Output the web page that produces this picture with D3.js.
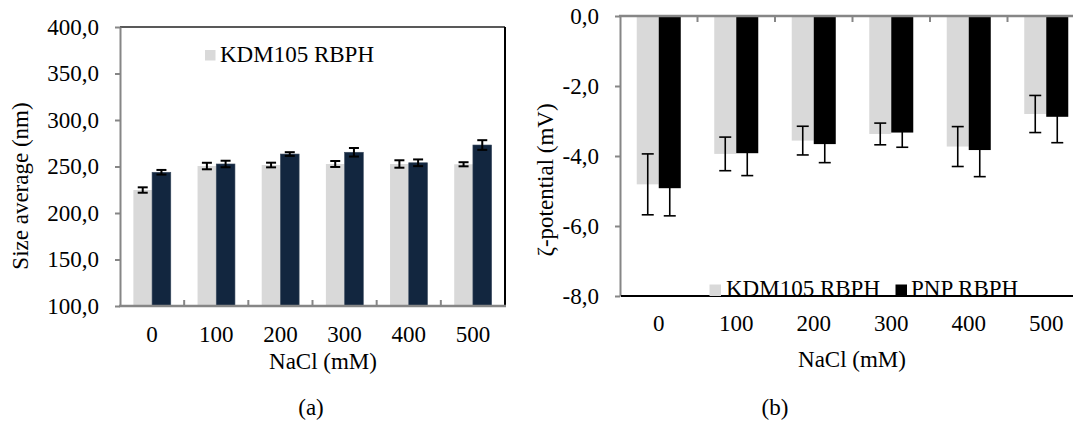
<!DOCTYPE html>
<html>
<head>
<meta charset="utf-8">
<script src="https://cdn.jsdelivr.net/npm/d3@7"></script>
<style>
  body { margin: 0; background: #fff; }
  text { font-family: "Liberation Serif", "Times New Roman", serif; font-size: 23px; fill: #000; }
</style>
</head>
<body>
<div id="chart"></div>
<script>
// NaCl concentrations (mM)
var categories = ['0', '100', '200', '300', '400', '500'];
var seriesNames = ['KDM105 RBPH', 'PNP RBPH'];

// (a) size average (nm)
var sizeKdm = [224.7, 250.5, 251.6, 252.7, 252.7, 252.4];
var sizeKdmErr = [2.9, 3.5, 2.5, 3.2, 4.0, 2.2];
var sizePnp = [243.8, 252.7, 263.4, 265.3, 254.0, 273.1];
var sizePnpErr = [2.5, 3.5, 2.0, 4.6, 3.6, 5.2];
var sizeTicks = [100, 150, 200, 250, 300, 350, 400];

// (b) zeta potential (mV)
var zetaKdm = [-4.81, -3.94, -3.56, -3.37, -3.73, -2.80];
var zetaKdmErr = [0.87, 0.48, 0.41, 0.31, 0.57, 0.53];
var zetaPnp = [-4.92, -3.92, -3.66, -3.33, -3.83, -2.88];
var zetaPnpErr = [0.79, 0.64, 0.53, 0.42, 0.76, 0.74];
var zetaTicks = [0, -2, -4, -6, -8];

(function(d3) {
  'use strict';
  var width = 1073;
  var height = 423;
  var locale = d3.formatLocale({ decimal: ',', thousands: '.', grouping: [3], currency: ['', ''], minus: '-' });
  var fmt = locale.format('.1f');
  var axisGray = '#868686';

  var svg = d3.select('#chart')
    .append('svg')
    .attr('width', width)
    .attr('height', height);

  function rows(a, ae, b, be) {
    return categories.map(function(c, i) {
      return { cat: c, vals: [{ s: 0, v: a[i], e: ae[i] }, { s: 1, v: b[i], e: be[i] }] };
    });
  }

  // ---------- (a) ----------
  var xa = d3.scaleBand().domain(categories).range([120, 505])
    .paddingInner(0.417).paddingOuter(0.2085);
  var xa2 = d3.scaleBand().domain([0, 1]).range([0, xa.bandwidth()]);
  var ya = d3.scaleLinear().domain([100, 400]).range([306, 27]);
  var colA = ['#d9d9d9', '#12263f'];

  var ga = svg.append('g');
  var dataA = rows(sizeKdm, sizeKdmErr, sizePnp, sizePnpErr);

  var grpA = ga.selectAll('.grp').data(dataA).enter().append('g')
    .attr('transform', function(d) { return 'translate(' + xa(d.cat) + ',0)'; });
  grpA.selectAll('rect').data(function(d) { return d.vals; }).enter().append('rect')
    .attr('x', function(d) { return xa2(d.s); })
    .attr('width', xa2.bandwidth())
    .attr('y', function(d) { return ya(d.v); })
    .attr('height', function(d) { return ya(100) - ya(d.v); })
    .attr('fill', function(d) { return colA[d.s]; })
    .attr('stroke', function(d) { return d.s ? '#3a4a5e' : 'none'; })
    .attr('stroke-width', 0.6);
  var errA = grpA.selectAll('.err').data(function(d) { return d.vals; }).enter().append('g')
    .attr('stroke', '#000').attr('stroke-width', 2);
  errA.append('line')
    .attr('x1', function(d) { return xa2(d.s) + xa2.bandwidth() / 2; })
    .attr('x2', function(d) { return xa2(d.s) + xa2.bandwidth() / 2; })
    .attr('y1', function(d) { return ya(d.v + d.e); })
    .attr('y2', function(d) { return ya(d.v - d.e); });
  [1, -1].forEach(function(sg) {
    errA.append('line')
      .attr('x1', function(d) { return xa2(d.s) + xa2.bandwidth() / 2 - 5; })
      .attr('x2', function(d) { return xa2(d.s) + xa2.bandwidth() / 2 + 5; })
      .attr('y1', function(d) { return ya(d.v + sg * d.e); })
      .attr('y2', function(d) { return ya(d.v + sg * d.e); });
  });

  // frame top/right
  ga.append('line').attr('x1', 120).attr('x2', 505).attr('y1', 27).attr('y2', 27)
    .attr('stroke', '#222').attr('stroke-width', 1.5);
  ga.append('line').attr('x1', 505).attr('x2', 505).attr('y1', 27).attr('y2', 306)
    .attr('stroke', '#000').attr('stroke-width', 2);

  // y axis
  var yAxisA = ga.append('g').attr('transform', 'translate(120,0)')
    .call(d3.axisLeft(ya).tickValues(sizeTicks).tickFormat(fmt).tickSize(5).tickSizeOuter(0).tickPadding(16));
  yAxisA.selectAll('path, line').attr('stroke', axisGray).attr('stroke-width', 2);

  // x axis
  ga.append('line').attr('x1', 119).attr('x2', 506).attr('y1', 306).attr('y2', 306)
    .attr('stroke', axisGray).attr('stroke-width', 2.5);
  ga.selectAll('.xt').data(categories.slice(1)).enter().append('line')
    .attr('x1', function(d) { return xa(d) - xa.step() * xa.paddingInner() / 2; })
    .attr('x2', function(d) { return xa(d) - xa.step() * xa.paddingInner() / 2; })
    .attr('y1', 306).attr('y2', 300)
    .attr('stroke', axisGray).attr('stroke-width', 2);
  ga.selectAll('.xl').data(categories).enter().append('text')
    .attr('x', function(d) { return xa(d) + xa.bandwidth() / 2; })
    .attr('y', 341.5)
    .attr('text-anchor', 'middle')
    .text(function(d) { return d; });

  ga.append('text').attr('x', 323).attr('y', 369).attr('text-anchor', 'middle').text('NaCl (mM)');
  ga.append('text').attr('transform', 'translate(28,186) rotate(-90)')
    .attr('text-anchor', 'middle').text('Size average (nm)');
  ga.append('text').attr('x', 311).attr('y', 415).attr('text-anchor', 'middle').text('(a)');

  // legend (a)
  ga.append('rect').attr('x', 205).attr('y', 50).attr('width', 10.5).attr('height', 10.5).attr('fill', colA[0]);
  ga.append('text').attr('x', 220).attr('y', 62).text(seriesNames[0]);

  // ---------- (b) ----------
  var xb = d3.scaleBand().domain(categories).range([620, 1085])
    .paddingInner(0.432).paddingOuter(0.216);
  var xb2 = d3.scaleBand().domain([0, 1]).range([0, xb.bandwidth()]);
  var yb = d3.scaleLinear().domain([-8, 0]).range([296, 16]);
  var colB = ['#d9d9d9', '#000000'];

  var gb = svg.append('g');
  var dataB = rows(zetaKdm, zetaKdmErr, zetaPnp, zetaPnpErr);

  var grpB = gb.selectAll('.grp').data(dataB).enter().append('g')
    .attr('transform', function(d) { return 'translate(' + xb(d.cat) + ',0)'; });
  grpB.selectAll('rect').data(function(d) { return d.vals; }).enter().append('rect')
    .attr('x', function(d) { return xb2(d.s); })
    .attr('width', xb2.bandwidth())
    .attr('y', yb(0))
    .attr('height', function(d) { return yb(d.v) - yb(0); })
    .attr('fill', function(d) { return colB[d.s]; });
  var errB = grpB.selectAll('.err').data(function(d) { return d.vals; }).enter().append('g')
    .attr('stroke', '#000').attr('stroke-width', 1.6);
  errB.append('line')
    .attr('x1', function(d) { return xb2(d.s) + xb2.bandwidth() / 2; })
    .attr('x2', function(d) { return xb2(d.s) + xb2.bandwidth() / 2; })
    .attr('y1', function(d) { return yb(d.v + d.e); })
    .attr('y2', function(d) { return yb(d.v - d.e); });
  [1, -1].forEach(function(sg) {
    errB.append('line')
      .attr('x1', function(d) { return xb2(d.s) + xb2.bandwidth() / 2 - 6; })
      .attr('x2', function(d) { return xb2(d.s) + xb2.bandwidth() / 2 + 6; })
      .attr('y1', function(d) { return yb(d.v + sg * d.e); })
      .attr('y2', function(d) { return yb(d.v + sg * d.e); });
  });

  // y axis
  var yAxisB = gb.append('g').attr('transform', 'translate(620,0)')
    .call(d3.axisLeft(yb).tickValues(zetaTicks).tickFormat(fmt).tickSize(5).tickSizeOuter(0).tickPadding(16));
  yAxisB.selectAll('path, line').attr('stroke', axisGray).attr('stroke-width', 2);

  // top axis (value 0) and bottom line
  gb.append('line').attr('x1', 619).attr('x2', width).attr('y1', yb(0)).attr('y2', yb(0))
    .attr('stroke', axisGray).attr('stroke-width', 2.5);
  gb.selectAll('.xt').data(categories.slice(1)).enter().append('line')
    .attr('x1', function(d) { return xb(d) - xb.step() * xb.paddingInner() / 2; })
    .attr('x2', function(d) { return xb(d) - xb.step() * xb.paddingInner() / 2; })
    .attr('y1', yb(0)).attr('y2', yb(0) + 6)
    .attr('stroke', axisGray).attr('stroke-width', 2);
  gb.append('line').attr('x1', 621).attr('x2', width).attr('y1', yb(-8)).attr('y2', yb(-8))
    .attr('stroke', '#000').attr('stroke-width', 2.2);

  gb.selectAll('.xl').data(categories).enter().append('text')
    .attr('x', function(d) { return xb(d) + xb.bandwidth() / 2; })
    .attr('y', 331)
    .attr('text-anchor', 'middle')
    .text(function(d) { return d; });

  gb.append('text').attr('x', 852).attr('y', 366.5).attr('text-anchor', 'middle').text('NaCl (mM)');
  gb.append('text').attr('transform', 'translate(553,180) rotate(-90)')
    .attr('text-anchor', 'middle').text('\u03B6-potential (mV)');
  gb.append('text').attr('x', 775).attr('y', 415).attr('text-anchor', 'middle').text('(b)');

  // legend (b)
  var legB = [{ x: 709.5, tx: 726 }, { x: 895.5, tx: 911 }];
  legB.forEach(function(l, i) {
    gb.append('rect').attr('x', l.x).attr('y', 284.5).attr('width', 11.5).attr('height', 11.5).attr('fill', colB[i]);
    gb.append('text').attr('x', l.tx).attr('y', 295.5).text(seriesNames[i]);
  });
})(window.d3);
</script>
</body>
</html>
